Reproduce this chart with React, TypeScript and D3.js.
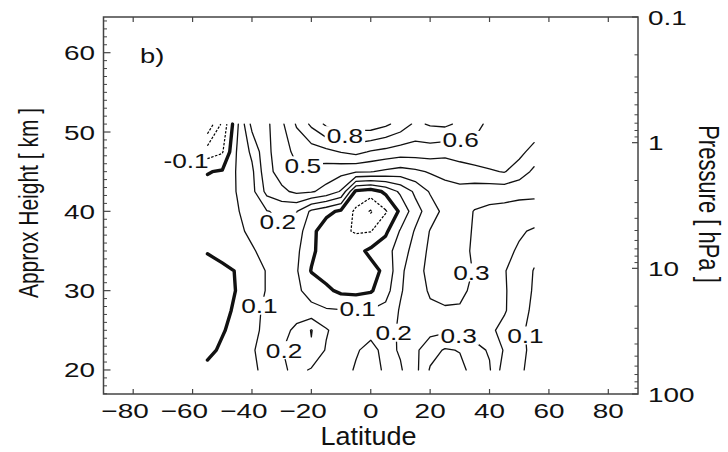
import React from "react";
import * as d3 from "d3";

// Grid: latitude columns and approximate height rows (km)
const LATS = [-55, -50, -45, -40, -35, -30, -25, -20, -15, -10, -5, 0, 5, 10, 15, 20, 25, 30, 35, 40, 45, 50, 55];
const HEIGHTS = [20, 22.5, 25, 27.5, 30, 32.5, 35, 37.5, 40, 42.5, 45, 47.5, 51];

// Field values for each height row (lat -55 .. 55)
const ROW_20_0 = [0.03, 0.06, 0.08, 0.08, 0.13, 0.18, 0.23, 0.19, 0.17, 0.16, 0.21, 0.25, 0.18, 0.19, 0.27, 0.41, 0.45, 0.43, 0.36, 0.31, 0.15, 0.11, 0.08];
const ROW_22_5 = [-0.03, 0.02, 0.06, 0.09, 0.14, 0.195, 0.25, 0.29, 0.19, 0.15, 0.19, 0.23, 0.17, 0.21, 0.28, 0.36, 0.41, 0.395, 0.33, 0.29, 0.19, 0.12, 0.08];
const ROW_25_0 = [-0.06, -0.01, 0.04, 0.08, 0.12, 0.17, 0.22, 0.305, 0.21, 0.15, 0.16, 0.17, 0.15, 0.22, 0.26, 0.27, 0.28, 0.28, 0.26, 0.22, 0.17, 0.12, 0.07];
const ROW_27_5 = [-0.08, -0.03, 0.02, 0.07, 0.12, 0.15, 0.16, 0.13, 0.11, 0.105, 0.11, 0.105, 0.13, 0.21, 0.26, 0.285, 0.29, 0.29, 0.27, 0.23, 0.21, 0.14, 0.08];
const ROW_30_0 = [-0.09, -0.04, 0.005, 0.06, 0.105, 0.13, 0.12, 0.06, 0.02, -0.02, -0.03, -0.01, 0.06, 0.19, 0.26, 0.31, 0.33, 0.32, 0.28, 0.25, 0.21, 0.15, 0.09];
const ROW_32_5 = [-0.06, -0.02, 0.005, 0.06, 0.105, 0.13, 0.11, -0.005, -0.04, -0.06, -0.05, -0.03, 0.02, 0.18, 0.26, 0.33, 0.36, 0.35, 0.29, 0.25, 0.205, 0.16, 0.095];
const ROW_35_0 = [0.01, 0.03, 0.06, 0.09, 0.13, 0.15, 0.12, 0.02, -0.05, -0.07, -0.03, 0.02, 0.06, 0.15, 0.24, 0.32, 0.36, 0.34, 0.28, 0.25, 0.22, 0.19, 0.13];
const ROW_37_5 = [0.03, 0.05, 0.08, 0.12, 0.17, 0.19, 0.15, 0.03, -0.06, -0.08, -0.11, -0.105, -0.02, 0.11, 0.21, 0.305, 0.36, 0.37, 0.28, 0.26, 0.24, 0.21, 0.19];
const ROW_40_0 = [0.03, 0.05, 0.09, 0.16, 0.195, 0.22, 0.205, 0.08, 0.03, -0.02, -0.12, -0.21, -0.11, 0.02, 0.16, 0.25, 0.33, 0.34, 0.295, 0.28, 0.27, 0.26, 0.25];
const ROW_42_5 = [0.03, 0.04, 0.105, 0.17, 0.33, 0.38, 0.42, 0.41, 0.37, 0.29, -0.02, -0.05, 0.02, 0.12, 0.22, 0.31, 0.36, 0.37, 0.35, 0.34, 0.34, 0.33, 0.33];
const ROW_45_0 = [-0.005, 0.01, 0.11, 0.18, 0.37, 0.44, 0.48, 0.47, 0.45, 0.43, 0.41, 0.405, 0.38, 0.36, 0.38, 0.41, 0.43, 0.45, 0.47, 0.49, 0.505, 0.45, 0.38];
const ROW_47_5 = [-0.15, -0.11, 0.11, 0.22, 0.38, 0.45, 0.53, 0.55, 0.57, 0.605, 0.63, 0.59, 0.57, 0.55, 0.55, 0.55, 0.53, 0.55, 0.56, 0.56, 0.57, 0.53, 0.46];
const ROW_51_0 = [-0.38, -0.18, 0.08, 0.33, 0.38, 0.48, 0.61, 0.72, 0.82, 0.88, 0.85, 0.86, 0.82, 0.76, 0.68, 0.71, 0.72, 0.68, 0.64, 0.57, 0.55, 0.56, 0.58];

const LEVELS = [-0.3, -0.2, -0.1, 0, 0.1, 0.2, 0.3, 0.4, 0.5, 0.6, 0.7, 0.8];

const LABEL_TEXT = ["-0.1", "0.5", "0.2", "0.8", "0.6", "0.3", "0.1", "0.2", "0.3", "0.1", "0.1", "0.2"];
const LABEL_LAT = [-62.2, -22.9, -31.3, -8.7, 30.3, 33.9, -4.4, 7.7, 29.6, 52.1, -37.5, -29.2];
const LABEL_H = [46.4, 45.8, 38.7, 49.6, 49.0, 32.3, 27.7, 24.7, 24.3, 24.35, 28.1, 22.5];

const X_TICKS = [-80, -60, -40, -20, 0, 20, 40, 60, 80];
const KM_TICKS = [20, 30, 40, 50, 60];
const P_TICKS = [0.1, 1, 10, 100];
const P_TICK_LABELS = ["0.1", "1", "10", "100"];

const FONT = "'Liberation Sans', Arial, Helvetica, sans-serif";
const INK = "#111";
const AX = "#444";

function interp(arr: number[], g: number) {
  const n = arr.length;
  const t = Math.max(0, Math.min(n - 1, g - 0.5));
  const i = Math.min(n - 2, Math.floor(t));
  return arr[i] + (t - i) * (arr[i + 1] - arr[i]);
}

export default function App() {
  const W = 728, H = 452;
  const L = 103.5, R = 638, T = 17, B = 394;
  const x = d3.scaleLinear().domain([-90, 90]).range([L, R]);
  const yKm = d3.scaleLinear().domain([16.97, 64.5]).range([B, T]);
  const yP = d3.scaleLog().domain([100, 0.1]).range([B, T]);

  const grid = [ROW_20_0, ROW_22_5, ROW_25_0, ROW_27_5, ROW_30_0, ROW_32_5, ROW_35_0, ROW_37_5, ROW_40_0, ROW_42_5, ROW_45_0, ROW_47_5, ROW_51_0];
  const nx = LATS.length, ny = HEIGHTS.length;
  const values = grid.flat();
  const contours = d3.contours().size([nx, ny]).thresholds(LEVELS)(values);

  const isB = (p: number[]) => p[0] <= 0 || p[0] >= nx || p[1] <= 0 || p[1] >= ny;
  const line = d3.line<number[]>().x((p) => x(interp(LATS, p[0]))).y((p) => yKm(interp(HEIGHTS, p[1])));

  const paths: { d: string; v: number }[] = [];
  contours.forEach((c) => {
    c.coordinates.forEach((poly) => {
      poly.forEach((ring0) => {
        let ring = ring0 as number[][];
        const f = ring[0], l = ring[ring.length - 1];
        if (f[0] === l[0] && f[1] === l[1]) ring = ring.slice(0, -1);
        const n = ring.length;
        const s = ring.findIndex(isB);
        if (s < 0) {
          paths.push({ d: (line(ring) || "") + "Z", v: c.value });
          return;
        }
        let cur: number[][] = [];
        for (let k = 0; k < n; k++) {
          const p = ring[(s + k) % n];
          if (isB(p)) {
            if (cur.length > 1) paths.push({ d: line(cur) || "", v: c.value });
            cur = [];
          } else cur.push(p);
        }
        if (cur.length > 1) paths.push({ d: line(cur) || "", v: c.value });
      });
    });
  });

  const kmMinor: number[] = [];
  for (let k = 17; k <= 64; k++) if (k % 10 !== 0) kmMinor.push(k);
  const pMinor: number[] = [];
  [0.1, 1, 10].forEach((dec) => { for (let k = 2; k <= 9; k++) pMinor.push(dec * k); });

  const SX = 1.33;
  const tickFont = 21;
  const digitW = 0.556 * tickFont * SX;
  const LSX = 1.25;
  const latMin = LATS[0], latMax = LATS[LATS.length - 1];

  return (
    <svg width={W} height={H} style={{ position: "absolute", left: 0, top: 0, background: "#fff" }} fontFamily={FONT}>
      <rect x={0} y={0} width={W} height={H} fill="#fff" />
      {/* contour labels outside the data */}
      {LABEL_TEXT.map((t, i) => {
        const cx = x(LABEL_LAT[i]), cy = yKm(LABEL_H[i]);
        const inside = LABEL_LAT[i] >= latMin && LABEL_LAT[i] <= latMax;
        return inside ? null : (
          <text key={"o" + i} transform={`translate(${cx},${cy + 7.5}) scale(${LSX},1)`} textAnchor="middle" fontSize={21} fill={INK}>{t}</text>
        );
      })}
      {/* contours */}
      <g fill="none" strokeLinejoin="round" strokeLinecap="round">
        {paths.map((p, i) => (
          <path key={i} d={p.d} stroke={p.v < 0 ? "#000" : INK}
            strokeWidth={p.v === 0 ? 3.4 : p.v < 0 ? 1.2 : 1.3}
            strokeLinecap={p.v < 0 ? "butt" : "round"}
            strokeDasharray={p.v < 0 ? "2.5,1.5" : undefined} />
        ))}
      </g>
      {/* contour labels inside the data */}
      {LABEL_TEXT.map((t, i) => {
        const cx = x(LABEL_LAT[i]), cy = yKm(LABEL_H[i]);
        const w = (t.length - 0.5) * 0.556 * 21 * LSX + 4;
        const inside = LABEL_LAT[i] >= latMin && LABEL_LAT[i] <= latMax;
        if (!inside) return null;
        return (
          <g key={i}>
            <rect x={cx - w / 2} y={cy - 9} width={w} height={18} fill="#fff" />
            <text transform={`translate(${cx},${cy + 7.5}) scale(${LSX},1)`} textAnchor="middle" fontSize={21} fill={INK}>{t}</text>
          </g>
        );
      })}
      {/* frame */}
      <rect x={L} y={T} width={R - L} height={B - T} fill="none" stroke={AX} strokeWidth={1.5} />
      {/* x ticks */}
      {X_TICKS.map((v) => (
        <g key={v}>
          <line x1={x(v)} x2={x(v)} y1={B} y2={B - 5} stroke={AX} strokeWidth={1.2} />
          <line x1={x(v)} x2={x(v)} y1={T} y2={T + 5} stroke={AX} strokeWidth={1.2} />
          <text transform={`translate(${x(v) + (String(Math.abs(v)).length * digitW) / 2},418) scale(${SX},1)`} textAnchor="end" fontSize={tickFont} fill={INK}>{v < 0 ? "\u2212" + Math.abs(v) : String(v)}</text>
        </g>
      ))}
      {/* left km axis */}
      {KM_TICKS.map((v) => (
        <g key={v}>
          <line x1={L} x2={L + 7} y1={yKm(v)} y2={yKm(v)} stroke={AX} strokeWidth={1.2} />
          <text transform={`translate(95,${yKm(v) + 7.5}) scale(${SX},1)`} textAnchor="end" fontSize={tickFont} fill={INK}>{v}</text>
        </g>
      ))}
      {kmMinor.map((v) => (
        <line key={v} x1={L} x2={L + 3.5} y1={yKm(v)} y2={yKm(v)} stroke={AX} strokeWidth={1} />
      ))}
      {/* right pressure axis */}
      {P_TICKS.map((v, i) => (
        <g key={v}>
          <line x1={R} x2={R - 6} y1={yP(v)} y2={yP(v)} stroke={AX} strokeWidth={1.2} />
          <text transform={`translate(648,${yP(v) + 7.5}) scale(${SX},1)`} textAnchor="start" fontSize={tickFont} fill={INK}>{P_TICK_LABELS[i]}</text>
        </g>
      ))}
      {pMinor.map((v) => (
        <line key={v} x1={R} x2={R - 3.5} y1={yP(v)} y2={yP(v)} stroke={AX} strokeWidth={1} />
      ))}
      {/* titles */}
      <text transform={`translate(37.5,${203}) rotate(-90) scale(1,1.3)`} textAnchor="middle" fontSize={21} fill={INK}>Approx Height [ km ]</text>
      <text transform={`translate(699,${204}) rotate(90) scale(1,1.3)`} textAnchor="middle" fontSize={22} fill={INK}>Pressure [ hPa ]</text>
      <text transform={`translate(368.5,445) scale(1.08,1)`} textAnchor="middle" fontSize={25} fill={INK}>Latitude</text>
      <text transform={`translate(140,63) scale(1.3,1)`} fontSize={21} fill={INK}>b)</text>
    </svg>
  );
}
